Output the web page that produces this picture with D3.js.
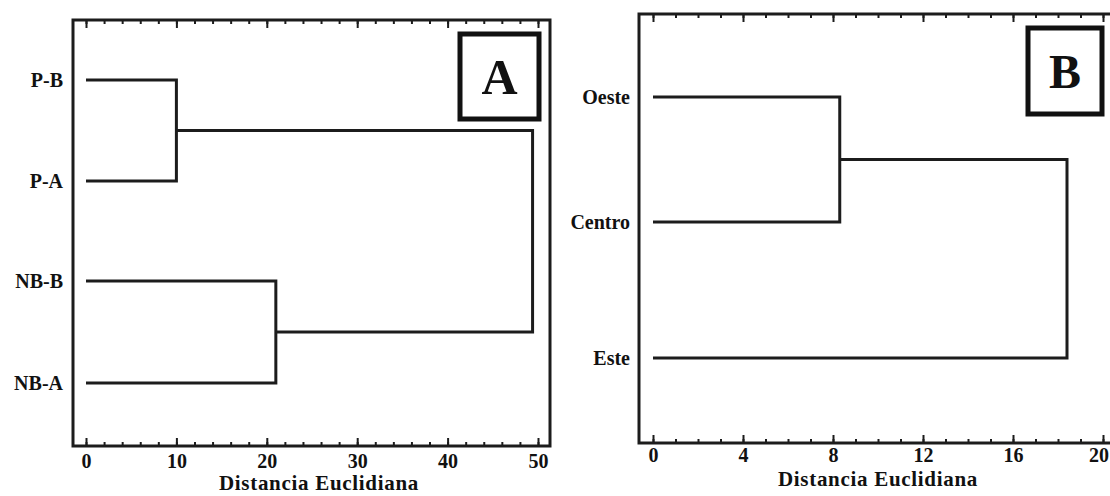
<!DOCTYPE html>
<html>
<head>
<meta charset="utf-8">
<script src="https://cdn.jsdelivr.net/npm/d3@7"></script>
<style>
  html, body { margin: 0; padding: 0; background: #fff; }
  svg { display: block; }
  text { font-family: "Liberation Serif", "Times New Roman", serif; font-weight: bold; fill: #111; }
</style>
</head>
<body>
<svg id="chart" width="1110" height="496"></svg>
<script>
// ---------- DATA ----------
// Panel A
const leavesA = ["P-B", "P-A", "NB-B", "NB-A"];
// linkage rows: [child1, child2, distance]; numbers refer to earlier merges (index)
const mergesA = [["P-B", "P-A", 10.0], ["NB-B", "NB-A", 21.0], [0, 1, 49.4]];
const majorTicksA = [0, 10, 20, 30, 40, 50];
const minorTicksA = d3.range(0, 51, 2);

// Panel B
const leavesB = ["Oeste", "Centro", "Este"];
const mergesB = [["Oeste", "Centro", 8.3], [0, "Este", 18.4]];
const majorTicksB = [0, 4, 8, 12, 16, 20];
const minorTicksB = d3.range(0, 21, 1);

const axisTitle = "Distancia Euclidiana";
const panelLetters = ["A", "B"];

// ---------- DRAW ----------
const svg = d3.select("#chart");
const ink = "#1c1c1c";
const W = 1110;

function panel(cfg) {
  const g = svg.append("g");
  const x = d3.scaleLinear().domain(cfg.domain).range(cfg.xRange);
  const y = d3.scaleOrdinal().domain(cfg.leaves).range(cfg.yRange);
  const f = cfg.frame;

  // frame
  g.append("rect")
    .attr("x", f.left).attr("y", f.top)
    .attr("width", f.right - f.left).attr("height", f.bottom - f.top)
    .attr("fill", "none").attr("stroke", ink).attr("stroke-width", 3);

  // axes (bottom: labels + inward ticks; top: inward ticks)
  const styleAxis = sel => {
    sel.select(".domain").remove();
    sel.selectAll(".tick line").attr("stroke", ink).attr("stroke-width", 2);
  };
  g.append("g").attr("transform", `translate(0,${f.bottom})`)
    .call(d3.axisBottom(x).tickValues(cfg.minor).tickSizeInner(-4).tickSizeOuter(0).tickFormat(""))
    .call(styleAxis);
  g.append("g").attr("transform", `translate(0,${f.bottom})`)
    .attr("font-size", 20).attr("font-family", null)
    .call(d3.axisBottom(x).tickValues(cfg.major).tickSizeInner(-8).tickSizeOuter(0).tickPadding(cfg.tickPad).tickFormat(d3.format("d")))
    .call(styleAxis)
    .call(s => s.selectAll(".tick text").attr("font-size", 20).attr("fill", "#111")
      .attr("dx", function () {
        // keep labels inside the page edge
        const bb = this.getBBox();
        const ctm = this.getCTM();
        const right = ctm.e + bb.x + bb.width;
        return right > W - 1 ? (W - 1 - right) : 0;
      }));
  g.append("g").attr("transform", `translate(0,${f.top})`)
    .call(d3.axisTop(x).tickValues(cfg.minor).tickSizeInner(-4).tickSizeOuter(0).tickFormat(""))
    .call(styleAxis);
  g.append("g").attr("transform", `translate(0,${f.top})`)
    .call(d3.axisTop(x).tickValues(cfg.major).tickSizeInner(-8).tickSizeOuter(0).tickFormat(""))
    .call(styleAxis);

  // axis title
  g.append("text")
    .attr("x", (x(cfg.major[0]) + x(cfg.major[cfg.major.length - 1])) / 2 + cfg.titleDx)
    .attr("y", cfg.titleY)
    .attr("text-anchor", "middle")
    .attr("font-size", 21)
    .attr("letter-spacing", 0.7)
    .text(axisTitle);

  // leaf labels
  g.selectAll("text.leaf").data(cfg.leaves).join("text")
    .attr("class", "leaf")
    .attr("x", cfg.labelX)
    .attr("y", d => y(d))
    .attr("dy", "0.35em")
    .attr("text-anchor", "end")
    .attr("font-size", 20)
    .text(d => d);

  // dendrogram
  const nodes = [];
  const pos = c => typeof c === "number" ? nodes[c] : { h: 0, yy: y(c) };
  cfg.merges.forEach(([a, b, h]) => {
    const p1 = pos(a), p2 = pos(b);
    nodes.push({ h: h, yy: (p1.yy + p2.yy) / 2 });
    g.append("path")
      .attr("d", `M${x(p1.h)},${p1.yy}H${x(h)}V${p2.yy}H${x(p2.h)}`)
      .attr("fill", "none").attr("stroke", ink).attr("stroke-width", 3)
      .attr("stroke-linejoin", "miter");
  });

  // panel letter box
  const b = cfg.box;
  g.append("rect")
    .attr("x", b.x).attr("y", b.y).attr("width", b.w).attr("height", b.h)
    .attr("fill", "#fff").attr("stroke", "#111").attr("stroke-width", 5);
  g.append("text")
    .attr("x", b.x + b.w / 2).attr("y", b.y + b.h / 2)
    .attr("dy", "0.35em")
    .attr("text-anchor", "middle")
    .attr("font-size", b.fs)
    .text(cfg.letter);
}

panel({
  leaves: leavesA, merges: mergesA, major: majorTicksA, minor: minorTicksA,
  domain: [0, 50], xRange: [86, 538], yRange: [80, 181, 281, 383],
  frame: { left: 73, right: 550, top: 20, bottom: 446 },
  tickPad: 8, titleY: 490, titleDx: 7, labelX: 63,
  box: { x: 460, y: 34, w: 79, h: 85, fs: 50 }, letter: panelLetters[0]
});

panel({
  leaves: leavesB, merges: mergesB, major: majorTicksB, minor: minorTicksB,
  domain: [0, 20], xRange: [653, 1103], yRange: [97, 222, 358],
  frame: { left: 639, right: 1122, top: 14, bottom: 443 },
  tickPad: 5, titleY: 486, titleDx: 0, labelX: 630,
  box: { x: 1028, y: 28, w: 74, h: 86, fs: 48 }, letter: panelLetters[1]
});
</script>
</body>
</html>
